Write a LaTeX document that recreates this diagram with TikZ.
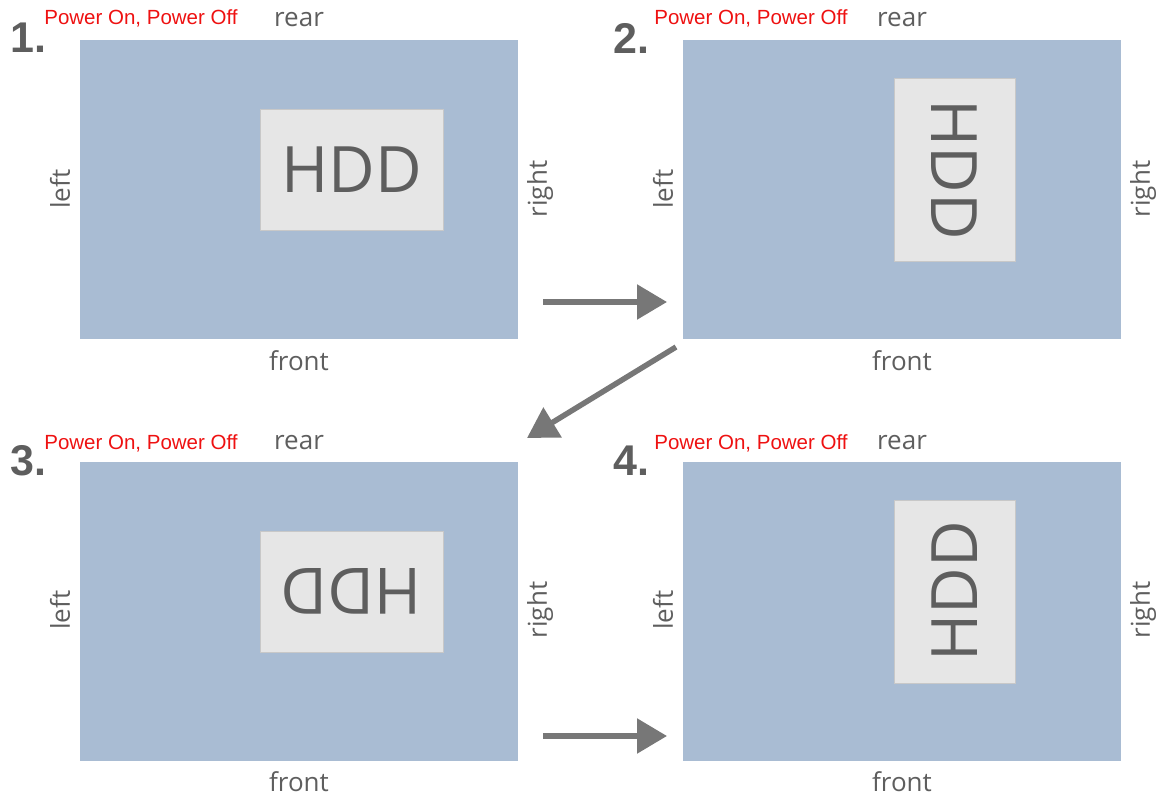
\documentclass[tikz,border=0pt]{standalone}
\usepackage{fontspec}
\setmainfont{Liberation Sans}
\newfontfamily\osans{Open Sans}
\usetikzlibrary{arrows.meta}
\definecolor{panelblue}{HTML}{A9BCD3}
\definecolor{hddfill}{HTML}{E6E6E6}
\definecolor{hddline}{HTML}{C8C8C8}
\definecolor{txtgray}{HTML}{5E5E5E}
\definecolor{arrgray}{HTML}{777777}
\definecolor{pwrred}{HTML}{EE1111}
\tikzset{
  panel/.style={fill=panelblue, draw=none, minimum width=438pt, minimum height=299pt, inner sep=0pt},
  hddbox/.style={fill=hddfill, draw=hddline, line width=0.8pt, inner sep=0pt, font=\osans\fontsize{64}{64}\selectfont, text=txtgray},
  side/.style={font=\osans\fontsize{26}{26}\selectfont, text=txtgray, inner sep=0pt},
  num/.style={font=\bfseries\fontsize{43}{43}\selectfont, text=txtgray, inner sep=0pt},
  pwr/.style={font=\fontsize{20.5}{20.5}\selectfont, text=pwrred, inner sep=0pt},
  flow/.style={draw=arrgray, line width=5.5pt, -{Triangle[length=30pt,width=34pt]}}
}
\begin{document}
\begin{tikzpicture}[x=1pt,y=-1pt]
\useasboundingbox (0,0) rectangle (1168,798);
% panel 1
\node[panel] (p1) at (299,189.5) {};
\node[hddbox, minimum width=183pt, minimum height=121pt] (h1) at (351.5,169.5) {HDD};
\node[num] (n1) at (28.5,38) {1.};
\node[pwr] (w1) at (141,18) {Power On, Power Off};
\node[side] (r1) at (299,20) {rear};
\node[side] (f1) at (299,361) {front};
\node[side, rotate=90] (l1) at (60,189) {left};
\node[side, rotate=90] (g1) at (540,189) {right};
% panel 2
\node[panel] (p2) at (902,189.5) {};
\node[hddbox, minimum width=121pt, minimum height=183pt] (h2) at (954.5,169.5) {};
\node[hddbox, draw=none, fill=none, rotate=-90] (t2) at (954.5,169.5) {HDD};
\node[num] (n2) at (631.5,38) {2.};
\node[pwr] (w2) at (751,18) {Power On, Power Off};
\node[side] (r2) at (902,20) {rear};
\node[side] (f2) at (902,361) {front};
\node[side, rotate=90] (l2) at (663,189) {left};
\node[side, rotate=90] (g2) at (1143,189) {right};
% panel 3
\node[panel] (p3) at (299,611.5) {};
\node[hddbox, minimum width=183pt, minimum height=121pt] (h3) at (351.5,591.5) {};
\node[hddbox, draw=none, fill=none, rotate=180] (t3) at (351.5,591.5) {HDD};
\node[num] (n3) at (28.5,461) {3.};
\node[pwr] (w3) at (141,443) {Power On, Power Off};
\node[side] (r3) at (299,443) {rear};
\node[side] (f3) at (299,782) {front};
\node[side, rotate=90] (l3) at (60,610) {left};
\node[side, rotate=90] (g3) at (540,610) {right};
% panel 4
\node[panel] (p4) at (902,611.5) {};
\node[hddbox, minimum width=121pt, minimum height=183pt] (h4) at (954.5,591.5) {};
\node[hddbox, draw=none, fill=none, rotate=90] (t4) at (954.5,591.5) {HDD};
\node[num] (n4) at (631.5,461) {4.};
\node[pwr] (w4) at (751,443) {Power On, Power Off};
\node[side] (r4) at (902,443) {rear};
\node[side] (f4) at (902,782) {front};
\node[side, rotate=90] (l4) at (663,610) {left};
\node[side, rotate=90] (g4) at (1143,610) {right};
% arrows
\coordinate (a1s) at (543,302);
\coordinate (a1e) at (667,302);
\coordinate (a2s) at (676,347);
\coordinate (a2e) at (527,438);
\coordinate (a3s) at (543,736);
\coordinate (a3e) at (667,736);
\draw[flow] (a1s) -- (a1e);
\draw[flow] (a2s) -- (a2e);
\draw[flow] (a3s) -- (a3e);
\end{tikzpicture}
\end{document}
